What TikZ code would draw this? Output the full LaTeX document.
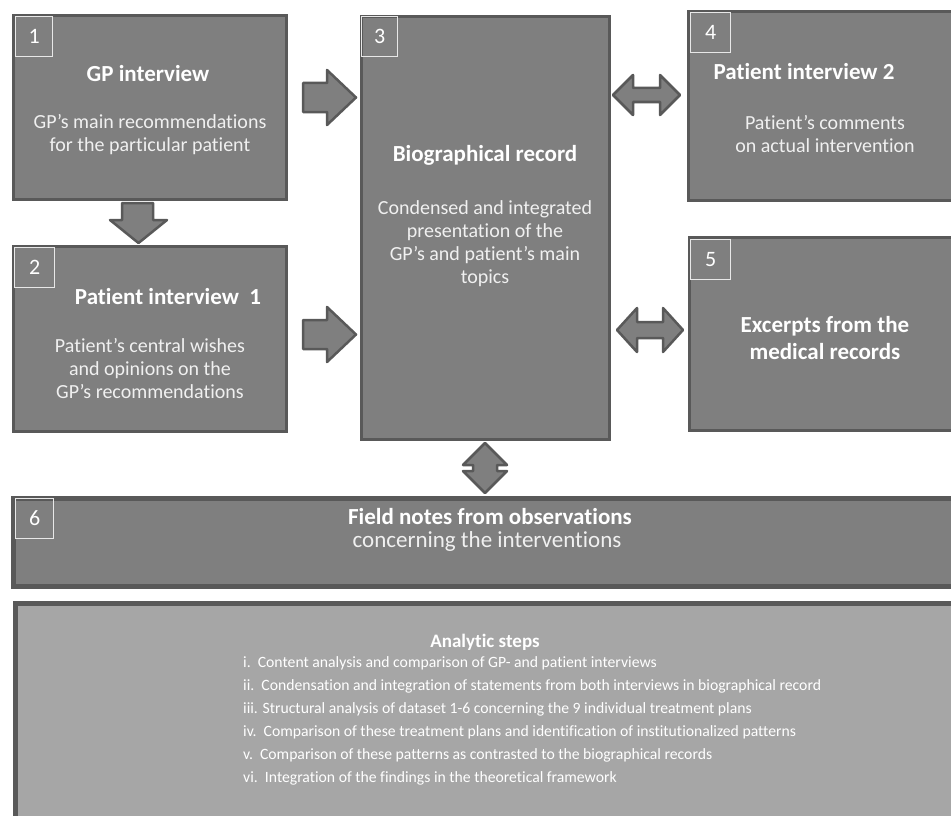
\documentclass[tikz,border=0pt]{standalone}
\usepackage{fontspec}
\setmainfont{Carlito}[Ligatures=NoCommon]
\definecolor{boxfill}{HTML}{7F7F7F}
\definecolor{boxline}{HTML}{595959}
\definecolor{stepfill}{HTML}{A6A6A6}
\definecolor{numline}{HTML}{E8E8E8}
\definecolor{bodytext}{HTML}{F0F0F0}
\begin{document}
\begin{tikzpicture}[x=1pt,y=-1pt,
  panel/.style={draw=boxline, line width=3pt, fill=boxfill, anchor=north west, inner sep=0pt},
  numbox/.style={draw=numline, line width=1.2pt, anchor=north west, inner sep=0pt, text=white, font=\fontsize{22}{24}\selectfont},
  ttl/.style={text=white, font=\bfseries\fontsize{23}{27}\selectfont, align=center, inner sep=0pt},
  body/.style={text=bodytext, font=\fontsize{20}{23}\selectfont, align=center, inner sep=0pt},
  blockarrow/.style={fill=boxfill, draw=boxline, line width=2.5pt, line join=round}
]
\useasboundingbox (0,0) rectangle (951,816);
\clip (0,0) rectangle (951,816);

% panels
\node[panel, minimum width=273pt, minimum height=184pt] (b1) at (12,14) {};
\node[panel, minimum width=273pt, minimum height=185pt] (b2) at (12,245) {};
\node[panel, minimum width=248pt, minimum height=423pt] (b3) at (360,15) {};
\node[panel, minimum width=300pt, minimum height=189pt] (b4) at (687,10) {};
\node[panel, minimum width=300pt, minimum height=193pt] (b5) at (688,236) {};
\node[panel, line width=5pt, minimum width=1000pt, minimum height=88pt] (b6) at (11,496) {};
\node[panel, line width=5pt, fill=stepfill, minimum width=1000pt, minimum height=300pt] (b7) at (13,601) {};

% number boxes
\node[numbox, minimum width=37pt, minimum height=40pt] (n1) at (15,16) {1};
\node[numbox, minimum width=40pt, minimum height=40pt] (n2) at (14,247) {2};
\node[numbox, minimum width=36pt, minimum height=40pt] (n3) at (361,16) {3};
\node[numbox, minimum width=40pt, minimum height=40pt] (n4) at (690,12) {4};
\node[numbox, minimum width=40pt, minimum height=40pt] (n5) at (690,239) {5};
\node[numbox, minimum width=38pt, minimum height=40pt] (n6) at (15,498) {6};

% texts
\node[ttl] (t1) at (148,74) {GP interview};
\node[body] (d1) at (150,134.5) {GP’s main recommendations\\for the particular patient};
\node[ttl] (t3) at (485,155) {Biographical record};
\node[body] (d3) at (485,244) {Condensed and integrated\\presentation of the\\GP’s and patient’s main\\topics};
\node[ttl] (t2) at (168,297) {Patient interview\ \ 1};
\node[body] (d2) at (150,369) {Patient’s central wishes\\and opinions on the\\GP’s recommendations};
\node[ttl] (t4) at (804,72) {Patient interview 2};
\node[body] (d4) at (825,134.5) {Patient’s comments\\on actual intervention};
\node[ttl] (t5) at (825,338.5) {Excerpts from the\\medical records};
\node[ttl] (t6) at (490,517) {Field notes from observations};
\node[body, font=\fontsize{23}{27}\selectfont] (d6) at (487,541) {concerning the interventions};
\node[ttl, font=\bfseries\fontsize{19}{22}\selectfont] (t7) at (485,642) {Analytic steps};
\node[body, font=\fontsize{15.7}{23}\selectfont, align=left, anchor=north west, text=white] (d7) at (243,656) {i.\ \ Content analysis and comparison of GP- and patient interviews\\
ii.\ \ Condensation and integration of statements from both interviews in biographical record\\
iii. Structural analysis of dataset 1-6 concerning the 9 individual treatment plans\\
iv.\ \ Comparison of these treatment plans and identification of institutionalized patterns\\
v.\ \ Comparison of these patterns as contrasted to the biographical records\\
vi.\ \ Integration of the findings in the theoretical framework};

% block arrows
\draw[blockarrow] (303,83) -- (327,83) -- (327,70) -- (356,97.5) -- (327,125) -- (327,112) -- (303,112) -- cycle;
\draw[blockarrow] (303,320) -- (327,320) -- (327,307) -- (356,334.5) -- (327,362) -- (327,349) -- (303,349) -- cycle;
\draw[blockarrow] (122,203) -- (153,203) -- (153,220) -- (167,220) -- (138.5,243) -- (110,220) -- (122,220) -- cycle;
\draw[blockarrow] (613,95) -- (633,75) -- (633,88) -- (660,88) -- (660,75) -- (680,95) -- (660,115) -- (660,102) -- (633,102) -- (633,115) -- cycle;
\draw[blockarrow] (617,330) -- (637,308) -- (637,322) -- (663,322) -- (663,308) -- (683,330) -- (663,352) -- (663,338) -- (637,338) -- (637,352) -- cycle;
\draw[blockarrow] (485,443) -- (507,465) -- (497,465) -- (497,471) -- (507,471) -- (485,493) -- (463,471) -- (473,471) -- (473,465) -- (463,465) -- cycle;
\end{tikzpicture}
\end{document}
